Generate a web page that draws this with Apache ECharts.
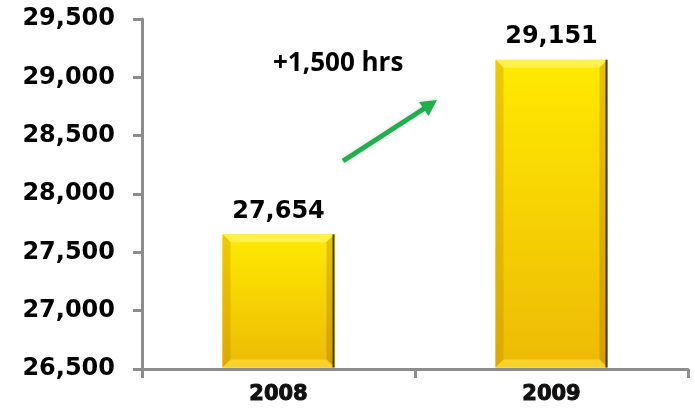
<!DOCTYPE html>
<html>
<head>
<meta charset="utf-8">
<script src="https://cdn.jsdelivr.net/npm/echarts@6/dist/echarts.min.js"></script>
<style>
  html, body { margin: 0; padding: 0; background: #fff; }
  #chart { width: 695px; height: 412px; }
</style>
</head>
<body>
<div id="chart"></div>
<script>
// Annual hours, two years
const years = ['2008', '2009'];
const hours = [27654, 29151];
const yTicks = [26500, 27000, 27500, 28000, 28500, 29000, 29500];
const changeNote = '+1,500 hrs';

const yMin = yTicks[0];
const yMax = yTicks[yTicks.length - 1];
const fmt = v => v.toLocaleString('en-US');

const chart = echarts.init(document.getElementById('chart'));

// Gold bar with bevelled edges, drawn from the axis scales
function renderBar(params, api) {
  const idx = api.value(0);
  const val = api.value(1);
  const top = api.coord([idx, val]);
  const base = api.coord([idx, yMin]);
  const bw = api.size([1, 0])[0] * 0.41;
  const x0 = top[0] - bw / 2, x1 = top[0] + bw / 2;
  const y0 = top[1], y1 = base[1] - 1.5;
  const b = 8;
  return {
    type: 'group',
    children: [
      { type: 'rect', shape: { x: x0, y: y0, width: x1 - x0, height: y1 - y0 },
        style: { fill: new echarts.graphic.LinearGradient(0, 0, 0, 1, [
          { offset: 0, color: '#FFEA00' }, { offset: 1, color: '#EDBA06' }]) } },
      // top bevel
      { type: 'polygon', shape: { points: [[x0, y0], [x1, y0], [x1 - b, y0 + b], [x0 + b, y0 + b]] },
        style: { fill: '#FFF04A' } },
      // left bevel
      { type: 'polygon', shape: { points: [[x0, y0], [x0 + b, y0 + b], [x0 + b, y1 - b], [x0, y1]] },
        style: { fill: new echarts.graphic.LinearGradient(0, 0, 0, 1, [
          { offset: 0, color: '#EDCB00' }, { offset: 1, color: '#DDA800' }]) } },
      // right bevel
      { type: 'polygon', shape: { points: [[x1, y0], [x1, y1], [x1 - b, y1 - b], [x1 - b, y0 + b]] },
        style: { fill: new echarts.graphic.LinearGradient(0, 0, 0, 1, [
          { offset: 0, color: '#E6C400' }, { offset: 1, color: '#D49E00' }]) } },
      // bottom bevel
      { type: 'polygon', shape: { points: [[x0, y1], [x0 + b, y1 - b], [x1 - b, y1 - b], [x1, y1]] },
        style: { fill: '#F6D22A' } },
      // dark right edge
      { type: 'rect', shape: { x: x1 - 2, y: y0, width: 2, height: y1 - y0 },
        style: { fill: '#4A3C08' } },
      // value label
      { type: 'text',
        style: { text: fmt(val), x: top[0], y: y0 - 11, align: 'center', verticalAlign: 'bottom',
          fill: '#000', font: 'bold 24px "DejaVu Sans", sans-serif' } }
    ]
  };
}

chart.setOption({
  animation: false,
  grid: { left: 142, right: 7, top: 19, bottom: 43 },
  xAxis: {
    type: 'category',
    data: years,
    axisLine: { lineStyle: { color: '#8C8C8C', width: 3 } },
    axisTick: { show: true, length: 9, lineStyle: { color: '#8C8C8C', width: 3 } },
    axisLabel: { color: '#111', fontSize: 21, fontWeight: 'bold',
      fontFamily: '"DejaVu Sans", sans-serif', margin: 15,
      textBorderColor: '#111', textBorderWidth: 1 }
  },
  yAxis: {
    type: 'value',
    min: yMin, max: yMax, interval: 500,
    splitLine: { show: false },
    axisLine: { show: true, lineStyle: { color: '#8C8C8C', width: 3 } },
    axisTick: { show: true, length: 9, lineStyle: { color: '#8C8C8C', width: 3 } },
    axisLabel: { color: '#000', fontSize: 24, fontWeight: 'bold',
      fontFamily: '"DejaVu Sans", sans-serif', margin: 27, formatter: fmt }
  },
  series: [{
    type: 'custom',
    renderItem: renderBar,
    data: hours.map((v, i) => [i, v]),
    encode: { x: 0, y: 1 },
    clip: false
  }],
  graphic: [
    { type: 'text', left: 273, top: 51,
      style: { text: changeNote, fill: '#000', font: 'bold 26px "Open Sans", sans-serif' } },
    { type: 'line', shape: { x1: 343, y1: 161, x2: 425, y2: 108 },
      style: { stroke: '#1DB04B', lineWidth: 5, shadowBlur: 4, shadowColor: 'rgba(0,0,0,0.15)' } },
    { type: 'polygon', shape: { points: [[437, 100], [428.5, 116], [419, 102]] },
      style: { fill: '#1DB04B', shadowBlur: 4, shadowColor: 'rgba(0,0,0,0.15)' } }
  ]
});
</script>
</body>
</html>
